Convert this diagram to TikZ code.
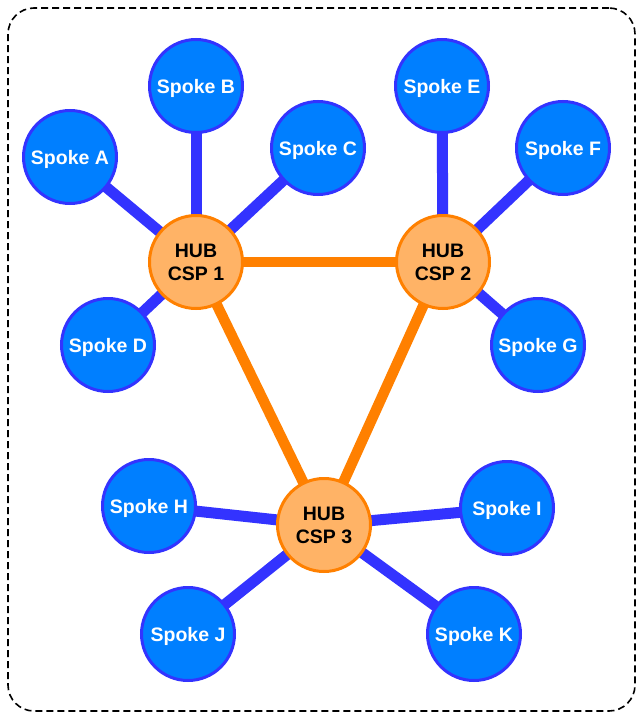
\documentclass[tikz,border=0pt]{standalone}
\usepackage{fontspec}
\setmainfont{Liberation Sans}
\usetikzlibrary{backgrounds}
\definecolor{spokefill}{HTML}{007FFF}
\definecolor{spokeline}{HTML}{3333FF}
\definecolor{hubfill}{HTML}{FFB366}
\definecolor{hubline}{HTML}{FF8000}
\tikzset{
  spokenode/.style={circle, draw=spokeline, fill=spokefill, line width=3pt, minimum size=93pt, inner sep=0pt,
    text=white, text depth=0pt, font=\fontsize{19.5}{23}\selectfont\bfseries},
  hubnode/.style={circle, draw=hubline, fill=hubfill, line width=3pt, minimum size=93pt, inner sep=0pt,
    text=black, align=center, font=\fontsize{19.5}{23}\selectfont\bfseries},
  spokelink/.style={draw=spokeline, line width=11pt},
  hublink/.style={draw=hubline, line width=10.5pt},
  frame/.style={draw=black, dashed, dash pattern=on 7pt off 4pt, line width=1.6pt, rounded corners=26pt}
}
\begin{document}
\begin{tikzpicture}[x=1pt, y=-1pt]
\useasboundingbox (0,0) rectangle (644,720);
\node[frame, minimum width=627pt, minimum height=703pt, inner sep=0pt] (border) at (321.5,359.5) {};
% hubs
\node[hubnode] (h1) at (196,262) {HUB\\CSP 1};
\node[hubnode] (h2) at (443,262) {HUB\\CSP 2};
\node[hubnode] (h3) at (324,525) {HUB\\CSP 3};
% spokes
\node[spokenode] (sA) at (70,157) {Spoke A};
\node[spokenode] (sB) at (196,86) {Spoke B};
\node[spokenode] (sC) at (318,148) {Spoke C};
\node[spokenode] (sD) at (108,345) {Spoke D};
\node[spokenode] (sE) at (442,86) {Spoke E};
\node[spokenode] (sF) at (563,148) {Spoke F};
\node[spokenode] (sG) at (538,345) {Spoke G};
\node[spokenode] (sH) at (149,506) {Spoke H};
\node[spokenode] (sI) at (507,508) {Spoke I};
\node[spokenode] (sJ) at (188,634) {Spoke J};
\node[spokenode] (sK) at (474,634) {Spoke K};
\begin{scope}[on background layer]
  \draw[hublink] (h1.center) -- (h2.center);
  \draw[hublink] (h1.center) -- (h3.center);
  \draw[hublink] (h2.center) -- (h3.center);
  \draw[spokelink] (h1.center) -- (sA.center);
  \draw[spokelink] (h1.center) -- (sB.center);
  \draw[spokelink] (h1.center) -- (sC.center);
  \draw[spokelink] (h1.center) -- (sD.center);
  \draw[spokelink] (h2.center) -- (sE.center);
  \draw[spokelink] (h2.center) -- (sF.center);
  \draw[spokelink] (h2.center) -- (sG.center);
  \draw[spokelink] (h3.center) -- (sH.center);
  \draw[spokelink] (h3.center) -- (sI.center);
  \draw[spokelink] (h3.center) -- (sJ.center);
  \draw[spokelink] (h3.center) -- (sK.center);
\end{scope}
\end{tikzpicture}
\end{document}
